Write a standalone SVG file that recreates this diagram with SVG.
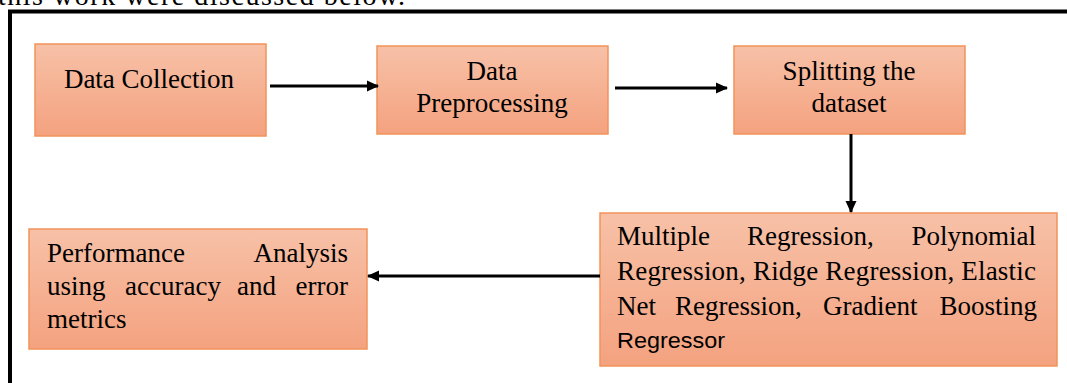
<svg xmlns="http://www.w3.org/2000/svg" width="1067" height="383" viewBox="0 0 1067 383">
<defs>
<linearGradient id="g" x1="0" y1="0" x2="0" y2="1">
<stop offset="0" stop-color="#F7C1A7"/>
<stop offset="1" stop-color="#F4A27F"/>
</linearGradient>
<marker id="ah" markerWidth="12" markerHeight="12" refX="11" refY="6" orient="auto" markerUnits="userSpaceOnUse">
<path d="M0,0.5 L12,6 L0,11.5 Z" fill="#000"/>
</marker>
<style>
.box{fill:url(#g);stroke:#F2925A;stroke-width:1.5}
.t{font-family:"Liberation Serif","Times New Roman",serif;font-size:27px;fill:#000}
.c{text-anchor:middle}
.e{text-anchor:end}
.s{font-family:"Liberation Sans",Arial,sans-serif;font-size:22px;fill:#000}
.conn{stroke:#000;stroke-width:3;fill:none;marker-end:url(#ah)}
</style>
</defs>
<rect width="1067" height="383" fill="#fff"/>
<text x="-2" y="5" font-family="'Liberation Serif','Times New Roman',serif" font-size="28" fill="#000" textLength="407" lengthAdjust="spacing">this work were discussed below.</text>
<path d="M10,383 V11.5 H1067" fill="none" stroke="#000" stroke-width="4"/>

<g id="n1">
<rect class="box" x="35" y="44" width="231" height="92"/>
<text class="t c" x="149" y="88">Data Collection</text>
</g>
<g id="n2">
<rect class="box" x="377" y="46" width="231" height="88"/>
<text class="t c" x="492" y="80">Data</text>
<text class="t c" x="492" y="112">Preprocessing</text>
</g>
<g id="n3">
<rect class="box" x="734" y="46" width="231" height="88"/>
<text class="t c" x="849" y="80">Splitting the</text>
<text class="t c" x="849" y="112">dataset</text>
</g>
<g id="n4">
<rect class="box" x="600" y="213" width="457" height="153"/>
<text class="t" x="617" y="245">Multiple</text>
<text class="t" x="747" y="245">Regression,</text>
<text class="t e" x="1036" y="245">Polynomial</text>
<text class="t" x="617" y="280" textLength="419" lengthAdjust="spacing">Regression, Ridge Regression, Elastic</text>
<text class="t" x="617" y="315">Net</text>
<text class="t" x="675" y="315">Regression,</text>
<text class="t" x="823" y="315">Gradient</text>
<text class="t e" x="1037" y="315">Boosting</text>
<text class="s" x="617" y="348" textLength="108" lengthAdjust="spacingAndGlyphs">Regressor</text>
</g>
<g id="n5">
<rect class="box" x="29" y="229" width="338" height="120"/>
<text class="t" x="47" y="262">Performance</text>
<text class="t e" x="348" y="262">Analysis</text>
<text class="t" x="47" y="295">using</text>
<text class="t" x="125" y="295">accuracy</text>
<text class="t" x="237" y="295">and</text>
<text class="t e" x="348" y="295">error</text>
<text class="t" x="47" y="328">metrics</text>
</g>

<g id="connectors">
<line class="conn" x1="270" y1="86" x2="378" y2="86"/>
<line class="conn" x1="615" y1="88" x2="727" y2="88"/>
<line class="conn" x1="851" y1="134" x2="851" y2="212"/>
<line class="conn" x1="600" y1="276" x2="368" y2="276"/>
</g>
</svg>
